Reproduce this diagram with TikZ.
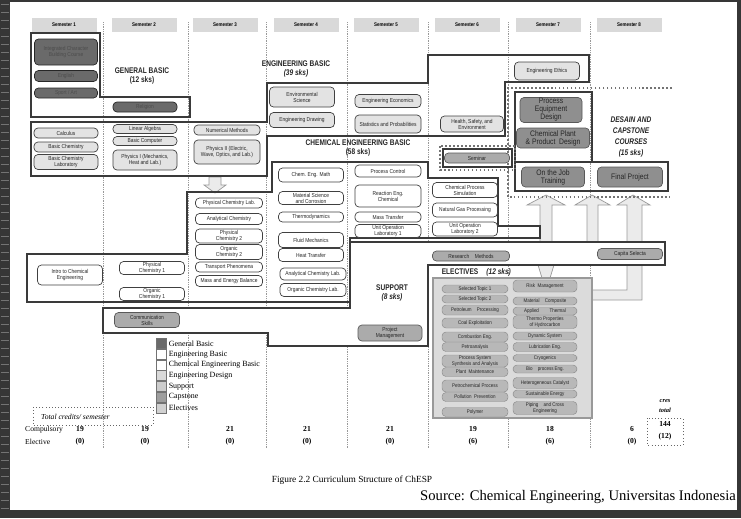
\documentclass[tikz,border=0pt]{standalone}
\usepackage{fontspec}
\setmainfont{Liberation Serif}
\setsansfont{Liberation Sans}
\newfontfamily\cursofont[FakeStretch=0.85]{Liberation Sans}
\newfontfamily\titfont[FakeStretch=0.8]{Liberation Sans}
\usepackage{tikz}
\usetikzlibrary{positioning}

\definecolor{marco}{HTML}{363636}
\definecolor{linea}{HTML}{3A3A3A}
\definecolor{gbfill}{HTML}{6A6A6A}
\definecolor{ebfill}{HTML}{E3E3E3}
\definecolor{supfill}{HTML}{ABABAB}
\definecolor{desfill}{HTML}{8F8F8F}
\definecolor{elfill}{HTML}{B8B8B8}
\definecolor{elback}{HTML}{DBDBDB}

\tikzset{
  curso/.style={rectangle, rounded corners=1.2mm, draw=black!75, line width=0.6pt,
    inner sep=0.2pt, align=center, text=black!85, font=\cursofont\fontsize{4.9}{5.2}\selectfont},
  tam/.style 2 args={minimum width=#1*0.03cm, minimum height=#2*0.03cm},
  gb/.style={curso, fill=gbfill, draw=black!85, text=black!70},
  eb/.style={curso, fill=ebfill},
  ceb/.style={curso, fill=white},
  sup/.style={curso, fill=supfill, draw=black!65},
  des/.style={curso, fill=desfill, draw=black!65, font=\cursofont\fontsize{6.8}{6.8}\selectfont},
  el/.style={curso, fill=elfill, draw=black!45, line width=0.4pt, font=\cursofont\fontsize{4.5}{4.7}\selectfont},
  sem/.style={fill=black!15, inner sep=0pt, minimum width=65*0.03cm, minimum height=14*0.03cm,
    font=\cursofont\bfseries\fontsize{4.5}{4.5}\selectfont},
  bloque/.style={draw=linea, line width=1.6pt, line join=miter},
  punteado/.style={draw=black!55, dotted, line width=1.4pt},
  flecha/.style={fill=black!8, draw=black!40, line width=0.6pt},
  titulo/.style={align=center, inner sep=0.5pt, text=black!85, font=\titfont\bfseries\fontsize{7}{7.5}\selectfont},
  leg/.style={draw=black!55, minimum size=0.3cm, inner sep=0pt},
  legtxt/.style={inner sep=0pt, font=\fontsize{6.8}{7}\selectfont},
  num/.style={align=center, inner sep=0pt, font=\bfseries\fontsize{6.5}{10}\selectfont}
}

\begin{document}
\begin{tikzpicture}[x=0.03cm, y=-0.03cm]
  \useasboundingbox (0,0) rectangle (741,518);

  % Marco oscuro del escaneo
  \fill[marco] (0,0) rectangle (10,518);
  \foreach \y in {4,12,...,508}
    \draw[black!55, line width=0.5pt] (1,\y) -- (9,\y);
  \fill[marco] (0,0) rectangle (741,2);
  \fill[marco] (737,0) rectangle (741,518);
  \fill[marco] (0,510) rectangle (741,518);

  % Divisiones entre semestres
  \foreach \x in {103,188,266,347,428,508,590}
    \draw[black!40, densely dotted, line width=0.5pt] (\x,22) -- (\x,448);

  % Cabeceras de semestre
  \node[sem] (s1) at (64,25) {Semester 1};
  \node[sem] (s2) at (144,25) {Semester 2};
  \node[sem] (s3) at (225,25) {Semester 3};
  \node[sem] (s4) at (306,25) {Semester 4};
  \node[sem] (s5) at (386,25) {Semester 5};
  \node[sem] (s6) at (467,25) {Semester 6};
  \node[sem] (s7) at (548,25) {Semester 7};
  \node[sem] (s8) at (629,25) {Semester 8};

  % Flechas huecas
  \draw[flecha] (209,177) -- (221,177) -- (221,185) -- (226,185) -- (215,193) -- (204,185) -- (209,185) -- cycle;
  \draw[flecha] (540,242) -- (540,205) -- (527,205) -- (546,195) -- (565,205) -- (552,205) -- (552,242) -- cycle;
  \draw[flecha] (587,242) -- (587,205) -- (575,205) -- (592,195) -- (610,205) -- (598,205) -- (598,242) -- cycle;
  \draw[flecha] (627,290) -- (627,205) -- (617,205) -- (633,195) -- (650,205) -- (642,205) -- (642,300) -- (592,300) -- (592,290) -- cycle;
  \draw[flecha] (538,265) -- (554,265) -- (550,278) -- (542,278) -- cycle;

  % Bloques del plan
  \draw[bloque] (31,33) -- (100,33) -- (100,97) -- (190,97) -- (190,117) -- (31,117) -- cycle;
  \draw[bloque] (31,122) -- (267,122) -- (267,83) -- (428,83) -- (428,55) -- (589,55) -- (589,82)
    -- (505,82) -- (505,136) -- (267,136) -- (267,176) -- (31,176) -- cycle;
  \draw[bloque] (27,254) -- (187,254) -- (187,192) -- (272,192) -- (272,162) -- (428,162) -- (428,178)
    -- (498,178) -- (498,226) -- (540,226) -- (540,238) -- (350,238) -- (350,302) -- (27,302) -- cycle;
  \draw[bloque, fill=white] (103,308) -- (350,308) -- (350,242) -- (665,242) -- (665,265) -- (428,265)
    -- (428,346) -- (268,346) -- (268,333) -- (103,333) -- cycle;

  % Desain y capstone
  \draw[punteado] (672,88) -- (508,88) -- (508,197) -- (670,197);
  \draw[bloque] (515,92) rectangle (592,162);
  \draw[bloque] (515,162) rectangle (668,191);
  \draw[punteado] (440,146) rectangle (515,170);
  \draw[bloque, line width=1.2pt] (443,149) rectangle (512,167);

  % Caja de optativas
  \draw[fill=elback, draw=black!40, line width=1.2pt] (433,278) rectangle (592,418);

  % Titulos de bloque
  \node[titulo] (tgb) at (142,76) {GENERAL BASIC\\(12 sks)};
  \node[titulo] (teb) at (296,69) {ENGINEERING BASIC\\\textit{(39 sks)}};
  \node[titulo] (tceb) at (358,148) {CHEMICAL ENGINEERING BASIC\\(58 sks)};
  \node[titulo] (tsup) at (392,293) {SUPPORT\\\textit{(8 sks)}};
  \node[titulo, anchor=west] (tel) at (441,272) {ELECTIVES\quad\textit{(12 sks)}};
  \node[titulo, font=\titfont\bfseries\itshape\fontsize{7}{9.5}\selectfont] (tdes) at (631,137)
    {DESAIN AND\\CAPSTONE\\COURSES\\(15 sks)};

  % General basic
  \node[gb, tam={63}{26}] (mpkt) at (66,52) {Integrated Character\\Building Course};
  \node[gb, tam={63}{11}] (english) at (66,76) {English};
  \node[gb, tam={63}{10}] (sport) at (66,93) {Sport / Art};
  \node[gb, tam={64}{10}] (relig) at (145,107) {Religion};

  % Engineering basic
  \node[eb, tam={64}{10}] (calc) at (66,133) {Calculus};
  \node[eb, tam={64}{10}] (bchem) at (66,147) {Basic Chemistry};
  \node[eb, tam={64}{15}] (bchlab) at (66,162) {Basic Chemistry\\Laboratory};
  \node[eb, tam={64}{9}] (linalg) at (145,129) {Linear Algebra};
  \node[eb, tam={64}{9}] (bcomp) at (145,141) {Basic Computer};
  \node[eb, tam={64}{20}] (phys1) at (145,160) {Physics I (Mechanics,\\Heat and Lab.)};
  \node[eb, tam={66}{10}] (nummet) at (227,130) {Numerical Methods};
  \node[eb, tam={66}{24}] (phys2) at (227,152) {Physics II (Electric,\\Wave, Optics, and Lab.)};
  \node[eb, tam={65}{20}] (envsci) at (302,97) {Environmental\\Science};
  \node[eb, tam={65}{15}] (engdraw) at (302,120) {Engineering Drawing};
  \node[eb, tam={66}{13}] (engeco) at (388,101) {Engineering Economics};
  \node[eb, tam={66}{18}] (stat) at (388,124) {Statistics and Probabilities};
  \node[eb, tam={63}{16}] (hse) at (472,124) {Health, Safety, and\\Environment};
  \node[eb, tam={65}{18}] (ethics) at (547,71) {Engineering Ethics};

  % Chemical engineering basic
  \node[ceb, tam={65}{20}] (intro) at (70,275) {Intro to Chemical\\Engineering};
  \node[ceb, tam={65}{13}] (pchem1) at (152,268) {Physical\\Chemistry 1};
  \node[ceb, tam={65}{13}] (ochem1) at (152,294) {Organic\\Chemistry 1};
  \node[ceb, tam={67}{10}] (pclab) at (229,203) {Physical Chemistry Lab.};
  \node[ceb, tam={67}{11}] (anchem) at (229,219) {Analytical Chemistry};
  \node[ceb, tam={67}{14}] (pchem2) at (229,236) {Physical\\Chemistry 2};
  \node[ceb, tam={67}{15}] (ochem2) at (229,252) {Organic\\Chemistry 2};
  \node[ceb, tam={67}{10}] (transp) at (229,267) {Transport Phenomena};
  \node[ceb, tam={67}{11}] (meb) at (229,281) {Mass and Energy Balance};
  \node[ceb, tam={65}{14}] (cem) at (311,175) {Chem. Eng. Math};
  \node[ceb, tam={65}{13}] (matsci) at (311,198) {Material Science\\and Corrosion};
  \node[ceb, tam={65}{10}] (thermo) at (311,217) {Thermodynamics};
  \node[ceb, tam={65}{15}] (fluid) at (311,240) {Fluid Mechanics};
  \node[ceb, tam={65}{13}] (heat) at (311,255) {Heat Transfer};
  \node[ceb, tam={66}{12}] (anlab) at (313,274) {Analytical Chemistry Lab.};
  \node[ceb, tam={66}{13}] (orglab) at (313,290) {Organic Chemistry Lab.};
  \node[ceb, tam={66}{12}] (pcontrol) at (388,171) {Process Control};
  \node[ceb, tam={66}{22}] (reaction) at (388,196) {Reaction Eng.\\Chemical};
  \node[ceb, tam={66}{10}] (masst) at (388,217) {Mass Transfer};
  \node[ceb, tam={66}{13}] (uol1) at (388,231) {Unit Operation\\Laboratory 1};
  \node[ceb, tam={65}{15}] (cps) at (465,190) {Chemical Process\\Simulation};
  \node[ceb, tam={65}{14}] (ngp) at (465,210) {Natural Gas Processing};
  \node[ceb, tam={65}{14}] (uol2) at (465,229) {Unit Operation\\Laboratory 2};

  % Support
  \node[sup, tam={65}{15}] (comskill) at (147,320) {Communication\\Skills};
  \node[sup, tam={64}{16}] (projman) at (390,333) {Project\\Management};
  \node[sup, tam={77}{10}] (resmet) at (471,256) {Research\quad Methods};
  \node[sup, tam={65}{11}] (capita) at (630,254) {Capita Selecta};
  \node[sup, tam={65}{10}] (seminar) at (477,158) {Seminar};

  % Diseno y capstone
  \node[des, tam={62}{25}] (ped) at (551,110) {Process\\Equipment\\Design};
  \node[des, tam={73}{20}] (cppd) at (553,138) {Chemical Plant\\\& Product\ \ Design};
  \node[des, tam={63}{20}] (ojt) at (553,177) {On the Job\\Training};
  \node[des, tam={65}{20}] (fp) at (630,177) {Final Project};

  % Optativas
  \node[el, tam={66}{8}] (st1) at (475,289) {Selected Topic 1};
  \node[el, tam={66}{8}] (st2) at (475,299) {Selected Topic 2};
  \node[el, tam={66}{10}] (petro) at (475,310) {Petroleum\quad Processing};
  \node[el, tam={66}{10}] (coal) at (475,323) {Coal Exploitation};
  \node[el, tam={66}{10}] (comb) at (475,337) {Combustion Eng.};
  \node[el, tam={66}{9}] (petroan) at (475,347) {Petroanalysis};
  \node[el, tam={66}{12}] (pss) at (475,361) {Process System\\Synthesis and Analysis};
  \node[el, tam={66}{9}] (plant) at (475,372) {Plant\ \ Maintenance};
  \node[el, tam={66}{12}] (petchem) at (475,386) {Petrochemical Process};
  \node[el, tam={66}{9}] (pollu) at (475,397) {Pollution\ \ Prevention};
  \node[el, tam={66}{9}] (polymer) at (475,412) {Polymer};
  \node[el, tam={64}{12}] (risk) at (545,286) {Risk\ \ Management};
  \node[el, tam={64}{8}] (matcomp) at (545,301) {Material\quad Composite};
  \node[el, tam={64}{8}] (appth) at (545,311) {Applied\qquad Thermal};
  \node[el, tam={64}{13}] (thermprop) at (545,322) {Thermo Properties\\of Hydrocarbon};
  \node[el, tam={64}{8}] (dynsys) at (545,336) {Dynamic System};
  \node[el, tam={64}{9}] (lubr) at (545,347) {Lubrication Eng.};
  \node[el, tam={64}{7}] (cryo) at (545,358) {Cryogenics};
  \node[el, tam={64}{8}] (biop) at (545,369) {Bio\quad process Eng.};
  \node[el, tam={64}{11}] (hetcat) at (545,383) {Heterogeneous Catalyst};
  \node[el, tam={64}{8}] (sust) at (545,394) {Sustainable Energy};
  \node[el, tam={64}{13}] (piping) at (545,408) {Piping\quad and Cross\\Engineering};

  % Leyenda
  \node[leg, fill=gbfill] (lgb) at (161,343.5) {};
  \node[leg, fill=white] (leb) at (161,354.5) {};
  \node[leg, fill=white] (lceb) at (161,365) {};
  \node[leg, fill=black!15] (ldes) at (161,375.5) {};
  \node[leg, fill=black!20] (lsup) at (161,386.5) {};
  \node[leg, fill=black!38] (lcap) at (161,397) {};
  \node[leg, fill=black!18] (lel) at (161,408) {};
  \node[legtxt, right=2pt of lgb] (tlgb) {General Basic};
  \node[legtxt, right=2pt of leb] (tleb) {Engineering Basic};
  \node[legtxt, right=2pt of lceb] (tlceb) {Chemical Engineering Basic};
  \node[legtxt, right=2pt of ldes] (tldes) {Engineering Design};
  \node[legtxt, right=2pt of lsup] (tlsup) {Support};
  \node[legtxt, right=2pt of lcap] (tlcap) {Capstone};
  \node[legtxt, right=2pt of lel] (tlel) {Electives};

  % Creditos por semestre
  \draw[black!60, dotted, line width=0.7pt] (33,407) rectangle (153,425);
  \node[anchor=west, inner sep=0pt, font=\itshape\fontsize{6.5}{7}\selectfont] (ttot) at (41,417) {Total credits/ semester};
  \node[anchor=west, inner sep=0pt, font=\fontsize{6.5}{7}\selectfont] (comp) at (25,430) {Compulsory};
  \node[anchor=west, inner sep=0pt, font=\fontsize{6.5}{7}\selectfont] (elec) at (25,442) {Elective};
  \node[num] (n1) at (80,436) {19\\(0)};
  \node[num] (n2) at (145,436) {19\\(0)};
  \node[num] (n3) at (230,436) {21\\(0)};
  \node[num] (n4) at (307,436) {21\\(0)};
  \node[num] (n5) at (390,436) {21\\(0)};
  \node[num] (n6) at (473,436) {19\\(6)};
  \node[num] (n7) at (550,436) {18\\(6)};
  \node[num] (n8) at (632,436) {6\\(0)};
  \draw[black!60, dotted, line width=0.7pt] (647,418) rectangle (683,445);
  \node[num] (ntot) at (665,431) {144\\(12)};
  \node[num, font=\bfseries\itshape\fontsize{5.5}{8}\selectfont] (ctot) at (665,406) {cres\\total};

  % Pie de figura
  \node[inner sep=0pt, font=\fontsize{8}{9}\selectfont] (fig) at (352,480) {Figure 2.2 Curriculum Structure of ChESP};
  \node[inner sep=0pt, font=\fontsize{12.5}{13}\selectfont] (src) at (578,497) {Source: Chemical Engineering, Universitas Indonesia};
\end{tikzpicture}
\end{document}
